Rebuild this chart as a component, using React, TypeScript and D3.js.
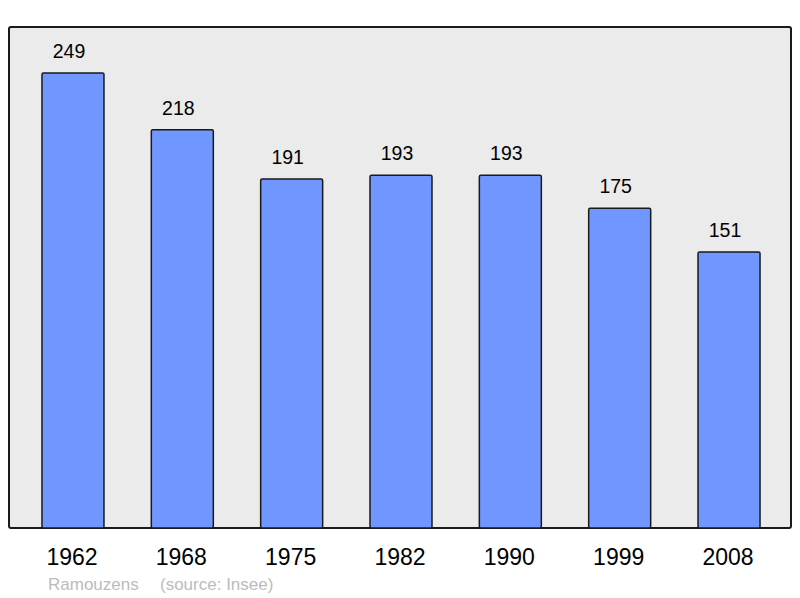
import React from "react";
import * as d3 from "d3";

const years = ["1962", "1968", "1975", "1982", "1990", "1999", "2008"];
const population = [249, 218, 191, 193, 193, 175, 151];
const commune = "Ramouzens";
const source = "(source: Insee)";

const width = 800;
const height = 598;

export default function App() {
  // plot frame
  const frame = { left: 9, top: 27, right: 791, bottom: 528 };

  const x = d3
    .scaleBand()
    .domain(years)
    .range([18.3, 783.7])
    .paddingInner(0.433)
    .paddingOuter(0.2165);

  const y = d3
    .scaleLinear()
    .domain([0, d3.max(population) as number])
    .range([frame.bottom, 73]);

  const font = "'Liberation Sans', Arial, sans-serif";

  return (
    <svg
      width={width}
      height={height}
      style={{ position: "absolute", left: 0, top: 0 }}
      fontFamily={font}
    >
      <rect x={0} y={0} width={width} height={height} fill="#ffffff" />
      <rect
        x={frame.left}
        y={frame.top}
        width={frame.right - frame.left}
        height={frame.bottom - frame.top}
        fill="#ebebeb"
        stroke="#1a1a1a"
        strokeWidth={2}
        rx={2}
      />
      {population.map((v, i) => {
        const bx = x(years[i]) as number;
        const bw = x.bandwidth();
        return (
          <g key={years[i]}>
            <rect
              x={bx}
              y={y(v)}
              width={bw}
              height={frame.bottom - y(v)}
              fill="#7097ff"
              stroke="#1a1a1a"
              strokeWidth={1.5}
              rx={1.5}
            />
            <text
              x={bx + bw / 2 - 4}
              y={y(v) - 15}
              textAnchor="middle"
              fontSize={19.5}
              fill="#000"
            >
              {v}
            </text>
            <text
              x={bx + bw / 2 - 1}
              y={565}
              textAnchor="middle"
              fontSize={23}
              fill="#000"
            >
              {years[i]}
            </text>
          </g>
        );
      })}
      <text x={48} y={590} fontSize={17} fill="#bbbbbb">
        {commune}
      </text>
      <text x={160} y={590} fontSize={17} fill="#bbbbbb">
        {source}
      </text>
    </svg>
  );
}
